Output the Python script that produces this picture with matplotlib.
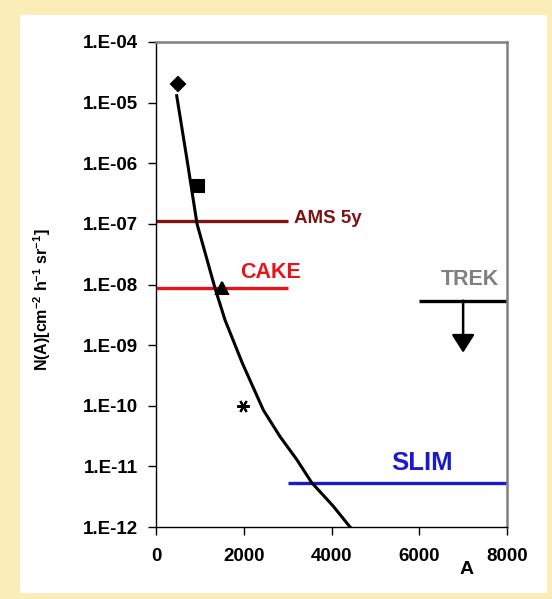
import matplotlib
matplotlib.use('Agg')
import matplotlib.pyplot as plt
from matplotlib.patches import Rectangle

plt.rcParams['font.family'] = ['Liberation Sans', 'DejaVu Sans']
plt.rcParams['font.weight'] = 'bold'
plt.rcParams['mathtext.fontset'] = 'custom'
plt.rcParams['mathtext.rm'] = 'Liberation Sans:bold'
plt.rcParams['mathtext.bf'] = 'Liberation Sans:bold'
plt.rcParams['mathtext.default'] = 'bf'

# model curve N(A)
curve_a = [472, 720, 935, 1345, 1573, 1970, 2446, 2827, 3207, 3548, 4041, 4422, 4520]
curve_n = [1.3e-5, 1.0e-6, 1.0e-7, 8.7e-9, 2.6e-9, 5.0e-10, 8.5e-11,
           3.1e-11, 1.3e-11, 5.4e-12, 2.2e-12, 1.0e-12, 8.3e-13]

# measured points
pts_a = [494, 965, 1497, 1990]
pts_n = [2.0e-5, 4.2e-7, 8.7e-9, 1.0e-10]
pts_marker = ['D', 's', '^', (6, 2, 90)]
pts_size = [7, 9, 8, 9]

# experiment sensitivities
exp_names = ['AMS 5y', 'CAKE', 'SLIM', 'TREK']
exp_from = [0, 0, 3000, 6000]
exp_to = [3000, 3000, 8000, 8000]
exp_level = [1.12e-7, 8.7e-9, 5.4e-12, 5.4e-9]
exp_color = ['#7d1414', '#e8141a', '#1a1acc', 'black']

trek_arrow_tip = 7.5e-10

fig = plt.figure(figsize=(5.52, 5.99), dpi=100, facecolor='#faedb8')
fig.patches.append(Rectangle((20 / 552, 6 / 599), 527 / 552, 578 / 599,
                             transform=fig.transFigure, facecolor='white',
                             edgecolor='none', zorder=-10))
ax = fig.add_axes([156 / 552, 1 - 527 / 599, 351 / 552, 485 / 599])
ax.set_yscale('log')
ax.set_xlim(0, 8000)
ax.set_ylim(1e-12, 1e-4)

ax.plot(curve_a, curve_n, color='black', lw=2.2, zorder=3)
for a, n, m, s in zip(pts_a, pts_n, pts_marker, pts_size):
    ax.plot(a, n, marker=m, ms=s, color='black', mew=1.5, ls='none', zorder=4)

for a0, a1, lev, c in zip(exp_from, exp_to, exp_level, exp_color):
    ax.plot([a0, a1], [lev, lev], color=c, lw=2.4, solid_capstyle='butt', zorder=2)

# labels
ax.text(3150, 1.02e-7, 'AMS 5y', color=exp_color[0], fontsize=13.5,
        fontweight='bold', va='baseline', ha='left')
ax.text(2600, 1.29e-8, 'CAKE', color=exp_color[1], fontsize=15.5,
        fontweight='bold', va='baseline', ha='center')
ax.text(6063, 8.7e-12, 'SLIM', color=exp_color[2], fontsize=18.5,
        fontweight='bold', va='baseline', ha='center')
ax.text(7146, 9.7e-9, 'TREK', color='#808080', fontsize=15.5,
        fontweight='bold', va='baseline', ha='center')
ax.annotate('', xy=(7000, trek_arrow_tip), xytext=(7000, exp_level[3]),
            arrowprops=dict(arrowstyle='-|>,head_width=0.35,head_length=0.55',
                            mutation_scale=20, color='black', lw=1.8,
                            shrinkA=0, shrinkB=0))

ax.set_xticks([0, 2000, 4000, 6000, 8000])
ax.set_yticks([10.0 ** e for e in range(-12, -3)])
ax.set_yticklabels(['1.E-%02d' % e for e in range(12, 3, -1)])
ax.minorticks_off()
ax.tick_params(labelsize=13.5, length=6, width=1, direction='out')
ax.tick_params(axis='x', pad=9)
ax.tick_params(axis='y', pad=7)
for lab in ax.get_xticklabels() + ax.get_yticklabels():
    lab.set_fontweight('bold')

for s in ['left', 'bottom']:
    ax.spines[s].set_color('black')
    ax.spines[s].set_linewidth(1)
for s in ['top', 'right']:
    ax.spines[s].set_color('#808080')
    ax.spines[s].set_linewidth(1.8)

fig.text(42 / 552, 1 - 300 / 599, 'N(A)[cm$^{-2}$ h$^{-1}$ sr$^{-1}$]',
         rotation=90, ha='center', va='center', fontsize=11.5, fontweight='bold')
fig.text(467 / 552, 1 - 570 / 599, 'A', ha='center', va='center',
         fontsize=14, fontweight='bold')

fig.savefig('out.png', dpi=100, facecolor=fig.get_facecolor())
